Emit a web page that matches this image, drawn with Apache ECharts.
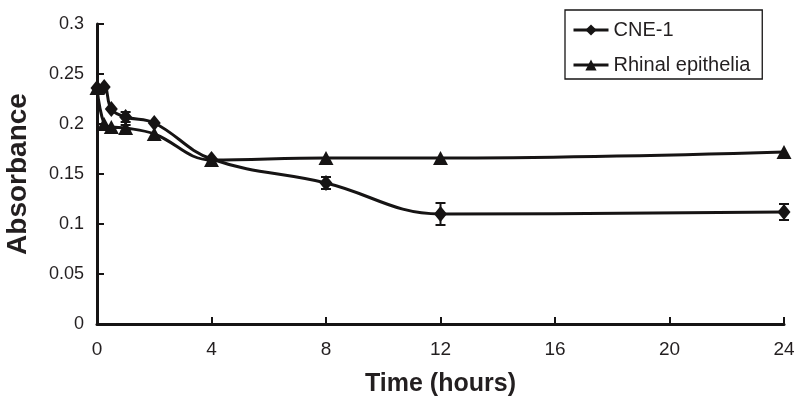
<!DOCTYPE html>
<html>
<head>
<meta charset="utf-8">
<script src="https://cdn.jsdelivr.net/npm/echarts@6/dist/echarts.min.js"></script>
<style>html,body{margin:0;padding:0;background:#fff;}#c{width:800px;height:402px;}</style>
</head>
<body>
<div id="c"></div>
<script>
var time = [0, 0.25, 0.5, 1, 2, 4, 8, 12, 24];
var cne1 = [0.236, 0.237, 0.215, 0.207, 0.201, 0.165, 0.141, 0.110, 0.112];
var cne1Err = [0, 0, 0, 0.005, 0, 0, 0.006, 0.011, 0.008];
var rhinal = [0.236, 0.200, 0.197, 0.196, 0.190, 0.164, 0.166, 0.166, 0.172];
var rhinalErr = [0, 0, 0, 0.003, 0, 0, 0, 0, 0];
var xTicks = [0, 4, 8, 12, 16, 20, 24];
var yTicks = [0, 0.05, 0.1, 0.15, 0.2, 0.25, 0.3];
var names = ['CNE-1', 'Rhinal epithelia'];

var INK = '#161414';
var TXT = '#231f20';
function pairs(ys) { return time.map(function (t, i) { return [t, ys[i]]; }); }
function errData(ys, es) {
  var out = [];
  time.forEach(function (t, i) { if (es[i] > 0) out.push([t, ys[i] - es[i], ys[i] + es[i]]); });
  return out;
}
function errRender(params, api) {
  var x = api.value(0);
  var lo = api.coord([x, api.value(1)]);
  var hi = api.coord([x, api.value(2)]);
  var w = 5;
  var st = { stroke: INK, lineWidth: 2 };
  return { type: 'group', children: [
    { type: 'line', shape: { x1: lo[0], y1: lo[1], x2: hi[0], y2: hi[1] }, style: st },
    { type: 'line', shape: { x1: lo[0] - w, y1: lo[1], x2: lo[0] + w, y2: lo[1] }, style: st },
    { type: 'line', shape: { x1: hi[0] - w, y1: hi[1], x2: hi[0] + w, y2: hi[1] }, style: st }
  ]};
}

var chart = echarts.init(document.getElementById('c'), null, { renderer: 'canvas' });
chart.setOption({
  backgroundColor: '#fff',
  animation: false,
  textStyle: { fontFamily: 'Liberation Sans, Arial, sans-serif' },
  grid: { left: 97, right: 16, top: 24, bottom: 78, containLabel: false, outerBoundsMode: 'none' },
  legend: {
    data: names,
    orient: 'vertical',
    left: 565, top: 10,
    padding: [10, 12, 4, 7],
    itemGap: 15,
    itemWidth: 35, itemHeight: 14,
    borderColor: INK, borderWidth: 1.3,
    backgroundColor: '#fff',
    textStyle: { fontSize: 20, color: TXT },
    itemStyle: { color: INK },
    lineStyle: { color: INK, width: 3 }
  },
  xAxis: {
    type: 'value', min: 0, max: 24, interval: 4,
    name: 'Time (hours)', nameLocation: 'middle', nameGap: 48,
    nameTextStyle: { fontSize: 25, fontWeight: 'bold', color: TXT },
    axisLine: { show: true, lineStyle: { color: INK, width: 3 } },
    axisTick: { show: true, inside: true, length: 7, lineStyle: { color: INK, width: 2 } },
    axisLabel: { fontSize: 19, color: TXT, margin: 16,
      customValues: xTicks, formatter: function (v) { return String(v); } },
    splitLine: { show: false }
  },
  yAxis: {
    type: 'value', min: 0, max: 0.3, interval: 0.05,
    name: 'Absorbance', nameLocation: 'middle', nameGap: 65, nameRotate: 90,
    nameTextStyle: { fontSize: 28, fontWeight: 'bold', color: TXT },
    axisLine: { show: true, lineStyle: { color: INK, width: 3 } },
    axisTick: { show: true, inside: true, length: 7, lineStyle: { color: INK, width: 2 } },
    axisLabel: { fontSize: 18, color: TXT, margin: 13,
      formatter: function (v) { return String(+v.toFixed(2)); } },
    splitLine: { show: false }
  },
  series: [
    { name: names[0], type: 'line', data: pairs(cne1), smooth: 0.4,
      symbol: 'diamond', symbolSize: [13, 16],
      lineStyle: { color: INK, width: 3 }, itemStyle: { color: INK }, z: 3 },
    { name: names[1], type: 'line', data: pairs(rhinal), smooth: 0.4,
      symbol: 'triangle', symbolSize: [15, 14],
      lineStyle: { color: INK, width: 3 }, itemStyle: { color: INK }, z: 3 },
    { type: 'custom', data: errData(cne1, cne1Err), renderItem: errRender, z: 2, silent: true },
    { type: 'custom', data: errData(rhinal, rhinalErr), renderItem: errRender, z: 2, silent: true }
  ]
});
</script>
</body>
</html>
